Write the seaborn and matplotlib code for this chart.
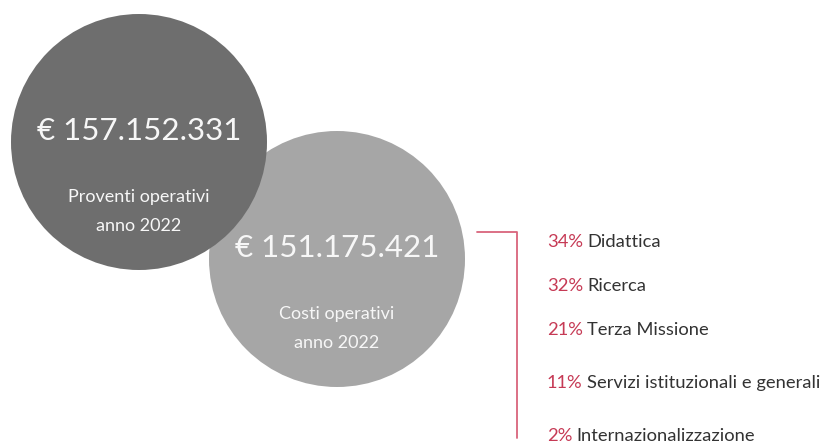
import matplotlib.pyplot as plt
import pandas as pd
import seaborn as sns
from matplotlib.patches import Circle

# Totali in euro
importi = ['€ 157.152.331', '€ 151.175.421']
etichette = [['Proventi operativi', 'anno 2022'], ['Costi operativi', 'anno 2022']]
colori_cerchi = ['#6e6e6e', '#a6a6a6']

# Ripartizione costi
percentuali = [34, 32, 21, 11, 2]
voci = ['Didattica', 'Ricerca', 'Terza Missione',
        'Servizi istituzionali e generali', 'Internazionalizzazione']

df = pd.DataFrame({'perc': percentuali, 'voce': voci})

sns.set_style('white')
plt.rcParams['font.family'] = ['Lato', 'DejaVu Sans']

fig = plt.figure(figsize=(8.25, 4.44), dpi=100)
ax = fig.add_axes([0, 0, 1, 1])
ax.set_xlim(0, 825)
ax.set_ylim(444, 0)
ax.axis('off')

# cerchi (il primo sta sopra)
centri = [(139, 142), (337, 259)]
for i in [1, 0]:
    cx, cy = centri[i]
    ax.add_patch(Circle((cx, cy), 128, color=colori_cerchi[i], lw=0, zorder=2 + (1 - i)))
    ax.text(cx, cy - 11, importi[i], ha='center', va='center', color='#f7f7f7',
            fontsize=22.5, zorder=5)
    ax.text(cx, cy + 55, etichette[i][0], ha='center', va='center', color='#f7f7f7',
            fontsize=13, zorder=5)
    ax.text(cx, cy + 84, etichette[i][1], ha='center', va='center', color='#f7f7f7',
            fontsize=13, zorder=5)

# parentesi rosa
ax.plot([477, 517, 517], [232, 232, 438], color='#d9647c', lw=1.3, zorder=1)

righe_y = [242, 286, 330, 383, 436]
for (_, r), y in zip(df.iterrows(), righe_y):
    t = ax.text(547, y, f"{r['perc']}%", ha='left', va='center', color='#c63a55', fontsize=13.2)
    ax.annotate(r['voce'], xy=(1, 0.5), xycoords=t, xytext=(3, 0), textcoords='offset points',
                ha='left', va='center', color='#333333', fontsize=13.2)

fig.savefig('out.png', dpi=100)
